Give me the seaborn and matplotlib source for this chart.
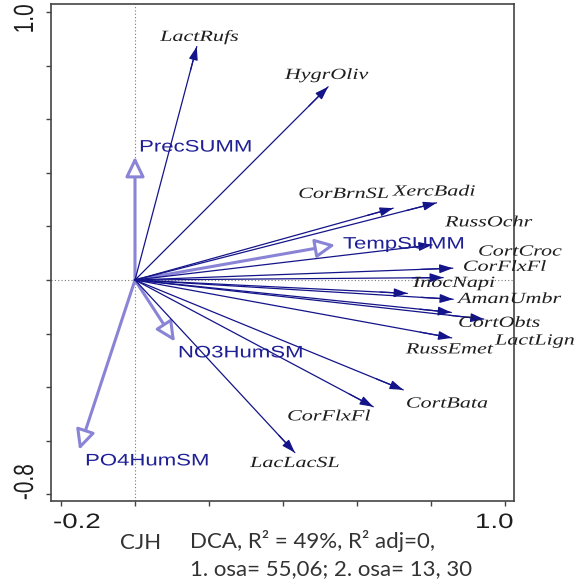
import numpy as np
import pandas as pd
import matplotlib
matplotlib.use("Agg")
import matplotlib.pyplot as plt
import matplotlib.patheffects as pe
from matplotlib.transforms import Affine2D, offset_copy
import seaborn as sns

# ---------------- data ----------------
species = ["LactRufs", "HygrOliv", "CorBrnSL", "XercBadi", "RussOchr", "CortCroc",
           "CorFlxFl", "InocNapi", "AmanUmbr", "CortObts", "LactLign", "RussEmet",
           "CortBata", "CorFlxFl", "LacLacSL"]
sp_x = [0.167, 0.522, 0.698, 0.815, 0.803, 0.859, 0.833, 0.736, 0.860, 0.855,
        0.943, 0.856, 0.725, 0.644, 0.432]
sp_y = [0.871, 0.721, 0.268, 0.288, 0.131, 0.044, 0.009, -0.050, -0.072, -0.121,
        -0.146, -0.216, -0.410, -0.473, -0.644]
sp_lab_x = [0.068, 0.405, 0.441, 0.697, 0.838, 0.927, 0.886, 0.751, 0.873, 0.873,
            0.973, 0.732, 0.732, 0.411, 0.311]
sp_lab_y = [0.907, 0.765, 0.321, 0.330, 0.215, 0.106, 0.049, -0.011, -0.071, -0.160,
            -0.226, -0.259, -0.461, -0.509, -0.683]

env = ["PrecSUMM", "TempSUMM", "NO3HumSM", "PO4HumSM"]
env_x = [0.0, 0.541, 0.108, -0.151]
env_y = [0.460, 0.131, -0.230, -0.634]
env_lab_x = [0.011, 0.562, 0.116, -0.135]
env_lab_y = [0.496, 0.134, -0.272, -0.675]

x_ticks = [-0.2, 0.0, 0.2, 0.4, 0.6, 0.8, 1.0]
y_ticks = [-0.8, -0.6, -0.4, -0.2, 0.0, 0.2, 0.4, 0.6, 0.8, 1.0]
x_tick_labels = ["-0.2", "1.0"]
x_tick_label_at = [-0.2, 1.0]
y_tick_labels = ["1.0", "-0.8"]
y_tick_label_at = [1.0, -0.8]
axis_title = "CJH"
note_lines = ["DCA, R\u00b2 = 49%, R\u00b2 adj=0,", "1. osa= 55,06; 2. osa= 13, 30"]

# ---------------- style ----------------
sns.set_theme(style="white")
plt.rcParams["font.family"] = ["Liberation Sans", "DejaVu Sans"]

NAVY = "#14148a"
ENV = "#8a84d6"
LABEL_NAVY = "#1f1f96"


class Stretch(pe.AbstractPathEffect):
    """Widen glyphs (the reference text is horizontally stretched)."""
    def __init__(self, sx=1.0, sy=1.0):
        super().__init__()
        self._sx, self._sy = sx, sy

    def draw_path(self, renderer, gc, tpath, affine, rgbFace=None):
        renderer.draw_path(gc, tpath, Affine2D().scale(self._sx, self._sy) + affine, rgbFace)


fig = plt.figure(figsize=(5.75, 5.83), dpi=100)
W, H = 575, 583
ax = fig.add_axes([51 / W, 1 - 500.7 / H, (514 - 51) / W, (500.7 - 4.3) / H])
ax.set_xlim(-0.227, 1.0243)
ax.set_ylim(-0.8235, 1.0287)

for s in ax.spines.values():
    s.set_visible(True)
    s.set_color("#444444")
    s.set_linewidth(1.2)

ax.set_xticks(x_ticks)
ax.set_yticks(y_ticks)
ax.set_xticklabels([])
ax.set_yticklabels([])
ax.tick_params(axis="both", direction="out", length=3.5, width=1.0, color="#444444",
               bottom=True, left=True, top=False, right=False)

# dotted cross-hairs through the origin
ax.axhline(0, color="#777777", lw=0.8, ls=(0, (1, 2)), zorder=1)
ax.axvline(0, color="#777777", lw=0.8, ls=(0, (1, 2)), zorder=1)

# environmental vectors (open heads)
for x, y in zip(env_x, env_y):
    ax.annotate("", xy=(x, y), xytext=(0, 0),
                arrowprops=dict(arrowstyle="-|>,head_length=1.2,head_width=0.58",
                                mutation_scale=10, lw=2.2, edgecolor=ENV,
                                facecolor="white", shrinkA=0, shrinkB=0),
                zorder=2)

# species vectors: shafts via seaborn, heads via annotate
rows = []
for i, (x, y) in enumerate(zip(sp_x, sp_y)):
    rows.append({"sp": i, "x": 0.0, "y": 0.0, "ord": 0})
    rows.append({"sp": i, "x": x, "y": y, "ord": 1})
df = pd.DataFrame(rows)
sns.lineplot(data=df, x="x", y="y", units="sp", estimator=None, sort=False,
             color=NAVY, lw=0.9, ax=ax, zorder=3)
ax.set_xlabel("")
ax.set_ylabel("")
for x, y in zip(sp_x, sp_y):
    ax.annotate("", xy=(x, y), xytext=(0.9 * x, 0.9 * y),
                arrowprops=dict(arrowstyle="-|>,head_length=0.8,head_width=0.27",
                                mutation_scale=10, lw=0.9, color=NAVY,
                                shrinkA=0, shrinkB=0),
                zorder=3)

# labels
for name, x, y in zip(species, sp_lab_x, sp_lab_y):
    ax.text(x, y, name, family=["Liberation Serif"], style="italic", fontsize=11.2,
            color="#1e1e1e", ha="left", va="center", zorder=4, clip_on=False,
            path_effects=[Stretch(1.42, 1.0)])
for name, x, y in zip(env, env_lab_x, env_lab_y):
    ax.text(x, y, name, family=["Liberation Sans"], fontsize=12,
            color=LABEL_NAVY, ha="left", va="center", zorder=4, clip_on=False,
            path_effects=[Stretch(1.33, 1.0)])

# axis numbers (only extremes are labelled)
ybot = ax.get_ylim()[0]
xleft = ax.get_xlim()[0]
x_off = {"-0.2": -8, "1.0": -30}
for lab, v in zip(x_tick_labels, x_tick_label_at):
    tr = offset_copy(ax.transData, fig=fig, x=x_off[lab], y=-27.3, units="dots")
    ax.text(v, ybot, lab, transform=tr, fontsize=15, color="#1e1e1e",
            ha="left", va="baseline", clip_on=False, path_effects=[Stretch(1.33, 1.0)])
y_off = {"1.0": -21.3, "-0.8": -5.7}
for lab, v in zip(y_tick_labels, y_tick_label_at):
    tr = offset_copy(ax.transData, fig=fig, x=-18, y=y_off[lab], units="dots")
    ax.text(xleft, v, lab, transform=tr, fontsize=15, color="#1e1e1e", rotation=90,
            rotation_mode="anchor", ha="left", va="baseline", clip_on=False,
            path_effects=[Stretch(1.0, 1.33)])

# bottom annotation
fig.text(120 / W, 1 - 549 / H, axis_title, family=["Lato", "DejaVu Sans"], fontsize=16,
         color="#333333", ha="left", va="baseline")
for k, line in enumerate(note_lines):
    fig.text(190 / W, 1 - (548 + 27 * k) / H, line, family=["Lato", "DejaVu Sans"],
             fontsize=16, color="#333333", ha="left", va="baseline")

fig.savefig("out.png", dpi=100)
